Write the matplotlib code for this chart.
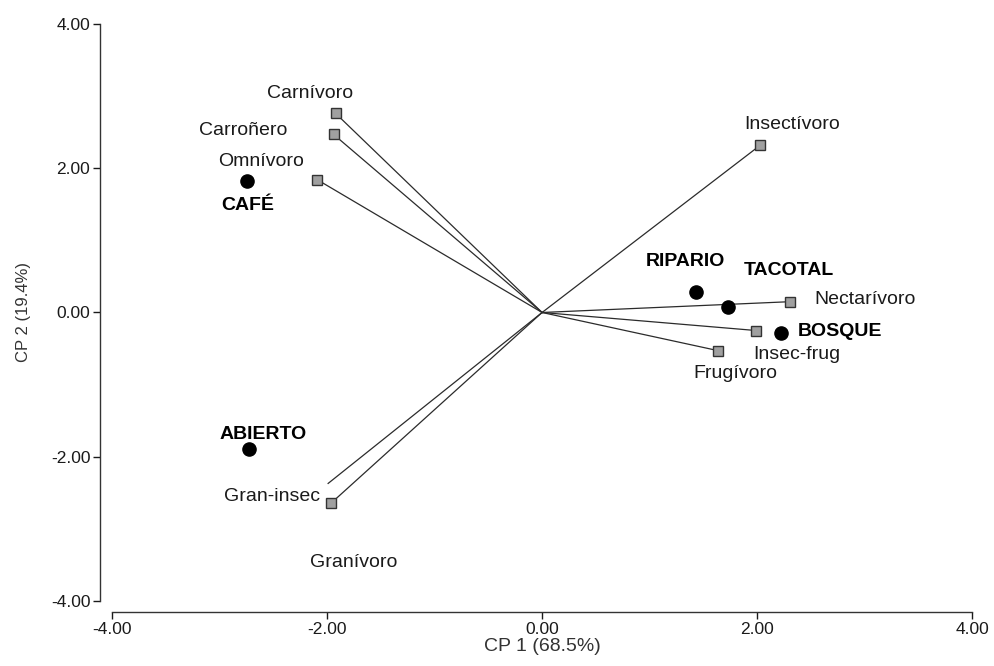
import matplotlib
matplotlib.use("Agg")
import matplotlib.pyplot as plt

plt.rcParams['font.family'] = ['Liberation Sans', 'DejaVu Sans']

# Habitat scores (sites)
sites = ["CAFÉ", "ABIERTO", "RIPARIO", "TACOTAL", "BOSQUE"]
site_cp1 = [-2.74, -2.73, 1.43, 1.73, 2.22]
site_cp2 = [1.82, -1.89, 0.29, 0.08, -0.28]
site_label_xy = [(-2.74, 1.48), (-2.59, -1.69), (1.33, 0.71), (2.30, 0.58), (2.77, -0.26)]

# Trophic guild loadings (vectors)
guilds = ["Carnívoro", "Carroñero", "Omnívoro", "Insectívoro", "Nectarívoro",
          "Insec-frug", "Frugívoro", "Gran-insec", "Granívoro"]
guild_cp1 = [-1.92, -1.94, -2.09, 2.03, 2.31, 1.99, 1.64, -1.96, -1.99]
guild_cp2 = [2.76, 2.47, 1.84, 2.32, 0.15, -0.25, -0.53, -2.64, -2.37]
guild_marker = [True, True, True, True, True, True, True, True, False]
guild_label_xy = [(-2.16, 3.04), (-2.78, 2.53), (-2.61, 2.09), (2.33, 2.61), (3.00, 0.18),
                  (2.37, -0.58), (1.80, -0.85), (-2.51, -2.55), (-1.75, -3.46)]

fig = plt.figure(figsize=(9.94, 6.66), dpi=100)
ax = fig.add_axes([0.1127, 0.0976, 0.8653, 0.8664])
ax.set_xlim(-4, 4)
ax.set_ylim(-4, 4)

line_col = "#2b2b2b"
for x, y, m in zip(guild_cp1, guild_cp2, guild_marker):
    ax.plot([0, x], [0, y], color=line_col, lw=0.9, zorder=2)
    if m:
        ax.plot(x, y, marker="s", ms=7, mfc="#a0a0a0", mec="#333333", mew=1.0,
                linestyle="none", zorder=3)

for name, (lx, ly) in zip(guilds, guild_label_xy):
    ax.text(lx, ly, name, ha="center", va="center", fontsize=14, color="#1a1a1a")

ax.scatter(site_cp1, site_cp2, s=90, color="black", zorder=4)
for name, (lx, ly) in zip(sites, site_label_xy):
    ax.text(lx, ly, name, ha="center", va="center", fontsize=14,
            fontweight="bold", color="black")

ticks = [-4, -2, 0, 2, 4]
ax.set_xticks(ticks)
ax.set_yticks(ticks)
ax.set_xticklabels([f"{t:.2f}" for t in ticks])
ax.set_yticklabels([f"{t:.2f}" for t in ticks])
ax.tick_params(labelsize=12.5, length=5, width=1, colors="#1a1a1a", pad=2)

for s in ["top", "right"]:
    ax.spines[s].set_visible(False)
ax.spines["left"].set_position(("outward", 8.6))
ax.spines["bottom"].set_position(("outward", 8))
for s in ["left", "bottom"]:
    ax.spines[s].set_color("#333333")
    ax.spines[s].set_linewidth(1.0)

ax.set_xlabel("CP 1 (68.5%)", fontsize=14, color="#333333", labelpad=1)
ax.set_ylabel("CP 2 (19.4%)", fontsize=12, color="#333333", labelpad=14)

fig.savefig("out.png", dpi=100)
